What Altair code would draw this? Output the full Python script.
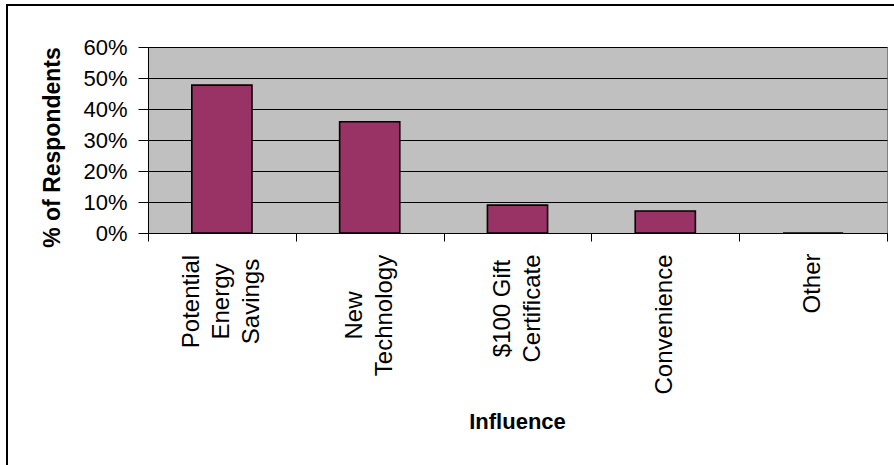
import altair as alt
import pandas as pd

# Survey results: what influenced respondents
influence = ["Potential\nEnergy\nSavings", "New\nTechnology", "$100 Gift\nCertificate", "Convenience", "Other"]
share = [0.477, 0.359, 0.090, 0.071, 0.0]
y_ticks = [0.0, 0.1, 0.2, 0.3, 0.4, 0.5, 0.6]

df = pd.DataFrame({"Influence": influence, "Share": share})

FONT = "Liberation Sans"
LINE_H = 30
X_SORT = influence

# distance (px) from the axis line to the centre of each rotated label block
label_depth = [68, 82, 75, 91, 50]

x_scale = alt.Scale(paddingInner=0, paddingOuter=0)

bars = alt.Chart(df).mark_bar(
    color="#993366", stroke="black", strokeWidth=1.6,
    width=alt.RelativeBandSize(0.407),
).encode(
    x=alt.X(
        "Influence:N", sort=X_SORT, scale=x_scale,
        axis=alt.Axis(
            orient="bottom", labels=False,
            title="Influence", titleFont=FONT, titleFontSize=22, titleFontWeight="bold",
            titleColor="black", titleX=369, titleY=195, titleBaseline="alphabetic",
            tickBand="extent", tickSize=8, tickColor="black", tickWidth=1,
            domainColor="black", domainWidth=1, grid=False,
        ),
    ),
    y=alt.Y(
        "Share:Q",
        scale=alt.Scale(domain=[0, 0.6], nice=False),
        axis=alt.Axis(
            title="% of Respondents", titleFont=FONT, titleFontSize=23, titleFontWeight="bold",
            titleColor="black", titleX=-96, titleY=100, titleAngle=270,
            titleAlign="center", titleBaseline="middle",
            values=y_ticks, format=".0%",
            labelFont=FONT, labelFontSize=22, labelColor="black", labelPadding=11,
            tickSize=10, tickColor="black", tickWidth=1,
            domainColor="black", domainWidth=1,
            grid=True, gridColor="black", gridWidth=1, gridOpacity=1,
        ),
    ),
)

# one label-only axis per category: rotated, lines centred, block set off from the axis
label_layers = []
for cat, depth in zip(influence, label_depth):
    n_lines = cat.count("\n") + 1
    label_layers.append(
        alt.Chart(df).mark_bar(opacity=0).encode(
            x=alt.X(
                "Influence:N", sort=X_SORT, scale=x_scale,
                axis=alt.Axis(
                    orient="bottom", values=[cat], title=None,
                    labelExpr="split(datum.label, '\\n')",
                    labelAngle=270, labelAlign="center", labelBaseline="middle",
                    labelFont=FONT, labelFontSize=24, labelColor="black",
                    labelLineHeight=LINE_H,
                    labelPadding=depth, labelOffset=-(n_lines - 1) * LINE_H / 2,
                    labelOverlap=False, labelFlush=False,
                    ticks=False, tickSize=0, domain=False, grid=False,
                ),
            ),
        )
    )

# outer chart frame
frame = alt.Chart(alt.Data(values=[{}])).mark_rect(
    filled=False, stroke="black", strokeWidth=2,
).encode(
    x=alt.value(-141), x2=alt.value(800),
    y=alt.value(-42), y2=alt.value(500),
)

chart = alt.layer(frame, bars, *label_layers).resolve_axis(
    x="independent"
).properties(
    width=739, height=186,
    autosize=alt.AutoSizeParams(type="none"),
    padding={"left": 148, "top": 47, "right": 7, "bottom": 232},
    background="white",
).configure_view(
    fill="#c0c0c0", stroke="#808080", strokeWidth=1,
)

chart.save("out.html", embed_options={"renderer": "svg", "actions": False})
